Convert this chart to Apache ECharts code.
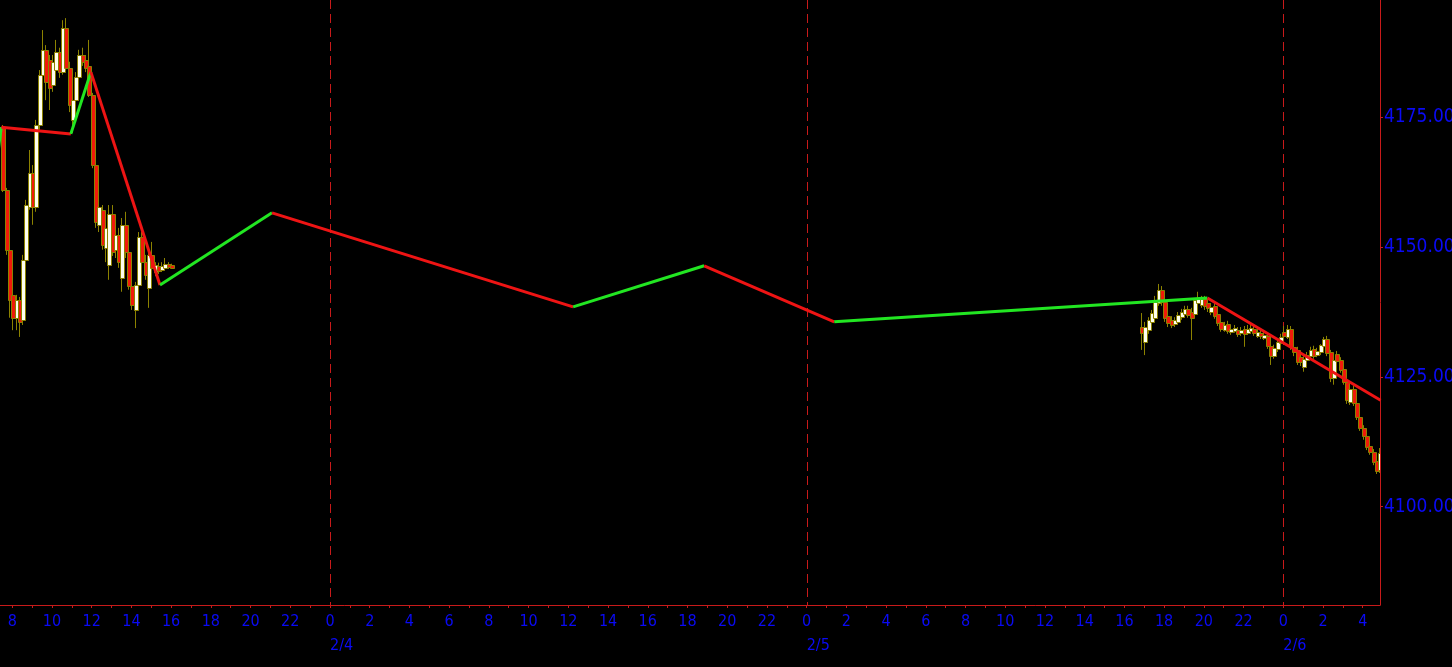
<!DOCTYPE html>
<html>
<head>
<meta charset="utf-8">
<script src="https://cdn.jsdelivr.net/npm/echarts@6/dist/echarts.min.js"></script>
<style>
html,body{margin:0;padding:0;background:#000;}
#chart{width:1452px;height:667px;}
</style>
</head>
<body>
<div id="chart"></div>
<script>
// Time is measured in hours after 2/3 00:00
const barStep = 1 / 6;            // 10-minute candles
const session1Start = 7.5;        // 2/3 07:30
const session2Start = 64 + 50 / 60; // 2/5 16:50

// [open, high, low, close]
const session1 = [
  [4172.9,4173.5,4160.6,4161.0],[4161.0,4161.4,4148.5,4149.5],[4149.5,4149.8,4136.4,4139.8],[4140.8,4141.8,4134.0,4136.4],
  [4136.4,4140.8,4134.0,4139.8],[4139.8,4140.4,4132.7,4135.6],[4136.0,4148.5,4135.0,4147.5],[4147.5,4159.1,4146.6,4158.1],
  [4157.7,4168.7,4157.2,4164.3],[4164.3,4165.8,4154.3,4157.7],[4157.7,4174.5,4156.8,4173.5],[4173.5,4184.1,4172.6,4183.2],
  [4183.2,4191.8,4182.2,4188.0],[4188.0,4188.9,4178.3,4181.8],[4186.0,4187.0,4176.4,4180.7],[4181.2,4187.0,4179.9,4185.7],
  [4184.1,4189.9,4182.2,4187.6],[4187.6,4188.4,4182.6,4183.7],[4183.7,4193.7,4183.2,4192.2],[4192.2,4194.1,4184.1,4184.5],
  [4184.5,4185.7,4176.0,4177.4],[4174.5,4179.3,4172.0,4178.3],[4178.3,4183.7,4177.4,4182.8],[4182.8,4188.0,4182.2,4187.0],
  [4187.0,4188.4,4184.9,4185.7],[4186.0,4187.0,4183.7,4184.5],[4184.9,4189.9,4178.9,4179.3],[4179.3,4179.7,4165.2,4165.8],
  [4165.8,4166.2,4153.7,4154.8],[4154.3,4161.0,4152.9,4157.7],[4157.2,4158.1,4149.5,4150.4],[4149.8,4154.8,4147.1,4153.7],
  [4146.6,4158.1,4143.7,4156.4],[4156.4,4158.1,4148.3,4149.1],[4149.5,4153.3,4147.9,4152.3],[4152.3,4153.7,4146.0,4147.1],
  [4144.1,4155.6,4141.4,4154.3],[4154.3,4156.8,4147.9,4149.1],[4149.1,4149.8,4141.8,4142.5],[4142.5,4143.3,4137.9,4138.9],
  [4137.9,4143.3,4134.4,4142.7],[4142.7,4152.9,4141.8,4152.0],[4152.0,4152.9,4146.0,4147.1],[4147.1,4148.5,4143.7,4144.6],
  [4142.1,4149.5,4138.3,4148.5],[4148.5,4151.0,4145.2,4146.0],[4145.2,4147.1,4144.4,4146.6],[4146.4,4147.0,4144.8,4145.4],
  [4145.6,4147.1,4145.2,4146.4],[4146.0,4147.9,4145.6,4146.8],[4146.8,4147.1,4145.8,4146.2],[4146.6,4146.8,4145.8,4146.0]
];

const session2 = [
  [4134.6,4137.3,4130.2,4133.5],[4131.7,4135.6,4129.2,4134.6],[4134.0,4136.5,4133.3,4136.0],[4135.6,4137.9,4135.0,4137.3],
  [4136.4,4140.6,4135.6,4139.4],[4139.2,4142.9,4138.7,4141.8],[4141.8,4142.5,4138.7,4139.4],[4139.4,4140.2,4135.6,4136.4],
  [4136.7,4137.5,4134.6,4135.4],[4136.0,4136.7,4134.4,4135.0],[4135.2,4136.5,4134.6,4136.0],[4135.6,4137.5,4135.0,4136.9],
  [4136.5,4138.1,4136.0,4137.5],[4137.1,4138.7,4136.5,4138.1],[4138.1,4138.7,4136.4,4136.9],[4137.5,4138.3,4132.1,4136.4],
  [4137.1,4140.2,4136.4,4139.8],[4139.2,4141.4,4138.7,4140.2],[4138.9,4140.6,4138.3,4140.0],[4140.0,4140.6,4137.9,4138.7],
  [4139.2,4140.0,4137.5,4138.3],[4137.5,4139.2,4136.9,4138.5],[4138.7,4139.2,4136.2,4136.7],[4137.1,4137.7,4134.8,4135.4],
  [4135.6,4136.4,4133.7,4134.2],[4134.0,4135.6,4133.7,4135.0],[4135.2,4135.8,4133.3,4133.8],[4133.7,4134.8,4133.1,4134.2],
  [4133.8,4135.0,4133.5,4134.4],[4134.0,4134.6,4132.7,4133.3],[4133.5,4134.6,4132.9,4134.0],[4134.2,4134.8,4130.8,4133.3],
  [4133.5,4135.0,4133.1,4134.2],[4133.8,4135.0,4133.5,4134.4],[4134.2,4134.8,4132.9,4133.5],[4132.9,4134.2,4132.5,4133.7],
  [4133.5,4134.0,4132.3,4132.9],[4132.5,4133.7,4132.1,4133.1],[4132.9,4133.5,4130.4,4131.0],[4131.0,4131.5,4127.3,4129.0],
  [4129.0,4131.2,4128.5,4130.6],[4130.4,4132.3,4129.8,4131.7],[4131.5,4133.3,4131.2,4132.7],[4133.7,4134.8,4132.5,4132.9],
  [4132.7,4135.0,4132.3,4134.2],[4134.2,4134.8,4130.2,4130.8],[4130.8,4131.5,4129.0,4129.8],[4130.2,4130.8,4127.3,4127.9],
  [4128.8,4129.6,4127.1,4127.9],[4126.9,4129.0,4126.0,4128.5],[4128.3,4129.8,4127.7,4129.2],[4129.0,4130.8,4128.7,4130.2],
  [4130.4,4131.0,4128.5,4129.0],[4129.2,4130.6,4128.8,4130.0],[4129.8,4131.3,4129.2,4131.2],[4131.0,4132.7,4130.6,4132.3],
  [4132.3,4132.9,4129.0,4129.6],[4129.8,4130.2,4124.0,4124.8],[4124.8,4129.0,4123.5,4128.3],[4129.4,4130.0,4127.5,4128.1],
  [4128.3,4128.8,4125.8,4126.3],[4126.5,4127.1,4123.5,4124.0],[4124.0,4124.6,4119.8,4120.6],[4120.2,4123.3,4119.6,4122.7],
  [4122.7,4123.3,4119.4,4120.0],[4120.0,4120.6,4116.7,4117.3],[4117.3,4117.9,4114.6,4115.2],[4115.2,4115.7,4112.9,4113.6],
  [4113.6,4114.2,4110.9,4111.5],[4111.7,4112.3,4110.0,4110.5],[4110.5,4111.1,4108.0,4108.6],[4108.8,4109.4,4106.3,4106.9],
  [4107.1,4111.3,4106.5,4110.4]
];

// ZigZag vertices
const zigzagTimes  = [7.2, 7.45, 10.95, 11.96, 15.44, 21.08, 36.24, 42.84, 49.39, 68.18, 76.9];
const zigzagPrices = [4166.0, 4173.1, 4171.8, 4183.7, 4142.7, 4156.6, 4138.5, 4146.4, 4135.6, 4140.2, 4120.5];

// Axes
const xMin = 7.384, xMax = 76.87;
const yMin = 4081.07, yMax = 4197.59;
const priceTicks = [4100, 4125, 4150, 4175];
const hourTicks = []; for (let h = 8; h <= 76; h++) hourTicks.push(h);
const hourLabels = hourTicks.filter(h => h % 2 === 0);
const dayBreaks = [24, 48, 72];
const dayNames = {24: '2/4', 48: '2/5', 72: '2/6'};

const AXIS_RED = '#c81a1a';
const LABEL_BLUE = '#0a0af5';
const OLIVE = '#8c8200';
const BULL = '#fffff0';
const BEAR = '#f01a0a';
const ZZ_UP = '#22e622';
const ZZ_DOWN = '#ee1414';
const FONT = "'DejaVu Sans Condensed', 'DejaVu Sans', sans-serif";
const FONT_NARROW = "'Liberation Sans Narrow', 'DejaVu Sans Condensed', sans-serif";

function toCandles(rows, start) {
  return rows.map((r, i) => [start + i * barStep, r[0], r[1], r[2], r[3]]);
}
const candleData = toCandles(session1, session1Start).concat(toCandles(session2, session2Start));

function renderCandle(params, api) {
  const t = api.value(0), o = api.value(1), h = api.value(2), l = api.value(3), c = api.value(4);
  const pO = api.coord([t, o]), pC = api.coord([t, c]);
  const pH = api.coord([t, h]), pL = api.coord([t, l]);
  const w = Math.max(2, Math.round(api.size([barStep, 0])[0] * 1.1));
  const cx = Math.round(pO[0]) + 0.5;
  const top = Math.round(Math.min(pO[1], pC[1])) + 0.5;
  const bot = Math.round(Math.max(pO[1], pC[1])) + 0.5;
  const bull = c >= o;
  return {
    type: 'group',
    children: [
      { type: 'line', shape: { x1: cx, y1: pH[1], x2: cx, y2: pL[1] },
        style: { stroke: OLIVE, lineWidth: 1 } },
      { type: 'rect', shape: { x: Math.round(cx - w / 2) + 0.5, y: top, width: w, height: Math.max(1, bot - top) },
        style: { fill: bull ? BULL : BEAR, stroke: OLIVE, lineWidth: 1 } }
    ]
  };
}

function renderDayBreak(params, api) {
  const top = api.coord([api.value(0), yMax]);
  const bottom = api.coord([api.value(0), yMin]);
  const x = Math.round(top[0]) + 0.5;
  return {
    type: 'line',
    shape: { x1: x, y1: top[1], x2: x, y2: bottom[1] },
    style: { stroke: AXIS_RED, lineWidth: 1, lineDash: [9, 5] }
  };
}

const zigzagSeries = [];
for (let i = 0; i < zigzagTimes.length - 1; i++) {
  const up = zigzagPrices[i + 1] > zigzagPrices[i];
  zigzagSeries.push({
    type: 'line',
    data: [[zigzagTimes[i], zigzagPrices[i]], [zigzagTimes[i + 1], zigzagPrices[i + 1]]],
    symbol: 'none',
    silent: true,
    z: 10,
    lineStyle: { color: up ? ZZ_UP : ZZ_DOWN, width: 3 },
    clip: true
  });
}

const chart = echarts.init(document.getElementById('chart'), null, { renderer: 'canvas' });
chart.setOption({
  backgroundColor: '#000000',
  animation: false,
  grid: { left: 0, right: 72, top: 0, bottom: 62, containLabel: false, outerBoundsMode: 'none' },
  xAxis: [{
    type: 'value', min: xMin, max: xMax, position: 'bottom',
    axisLine: { show: true, onZero: false, lineStyle: { color: AXIS_RED, width: 1 } },
    axisTick: { show: true, customValues: hourTicks, length: 3, lineStyle: { color: AXIS_RED } },
    axisLabel: { customValues: hourLabels, formatter: v => String(Math.round(v) % 24),
      color: LABEL_BLUE, fontSize: 16, fontFamily: FONT, margin: 9, hideOverlap: false },
    splitLine: { show: false }
  }, {
    type: 'value', min: xMin, max: xMax, position: 'bottom', offset: 24,
    axisLine: { show: false }, axisTick: { show: false },
    axisLabel: { customValues: dayBreaks, formatter: v => dayNames[Math.round(v)] || '',
      color: LABEL_BLUE, fontSize: 16, fontFamily: FONT, margin: 9, align: 'left' },
    splitLine: { show: false }
  }],
  yAxis: {
    type: 'value', min: yMin, max: yMax, position: 'right',
    axisLine: { show: true, lineStyle: { color: AXIS_RED, width: 1 } },
    axisTick: { show: true, customValues: priceTicks, length: 3, lineStyle: { color: AXIS_RED } },
    axisLabel: { customValues: priceTicks, formatter: v => v.toFixed(3),
      color: LABEL_BLUE, fontSize: 19, fontFamily: FONT_NARROW, margin: 4 },
    splitLine: { show: false }
  },
  series: [
    {
      type: 'custom', renderItem: renderDayBreak, data: dayBreaks.map(d => [d]),
      encode: { x: 0 }, silent: true, z: 1, clip: true
    },
    {
      type: 'custom', renderItem: renderCandle, data: candleData, clip: true, z: 5,
      encode: { x: 0, y: [1, 2, 3, 4] }, silent: true
    }
  ].concat(zigzagSeries)
});
</script>
</body>
</html>
